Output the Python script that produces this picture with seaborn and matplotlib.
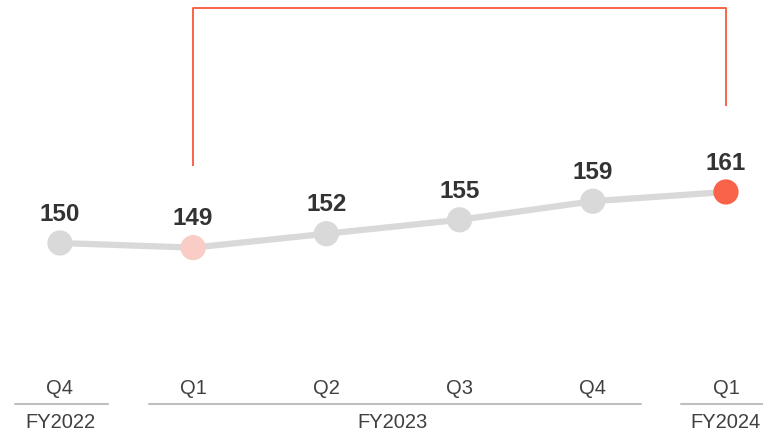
import matplotlib
matplotlib.use("Agg")
import matplotlib.pyplot as plt
import matplotlib.transforms as mtransforms
import seaborn as sns
import pandas as pd

quarters = ["Q4", "Q1", "Q2", "Q3", "Q4", "Q1"]
fiscal_years = ["FY2022", "FY2023", "FY2023", "FY2023", "FY2023", "FY2024"]
values = [150, 149, 152, 155, 159, 161]
point_roles = ["base", "start", "base", "base", "base", "end"]

df = pd.DataFrame({"pos": range(len(values)), "value": values,
                   "quarter": quarters, "fy": fiscal_years, "role": point_roles})

sns.set_theme(style="white")
plt.rcParams["font.family"] = ["Liberation Sans", "DejaVu Sans"]

GRAY = "#D9D9D9"
RED = "#F8634A"
PINK = "#F9CDC6"
TEXT = "#333333"
AXIS_TEXT = "#404040"
RULE = "#BFBFBF"

fig = plt.figure(figsize=(7.63, 4.33), dpi=100)
ax = fig.add_axes([0, 0, 1, 1])

sns.lineplot(data=df, x="pos", y="value", color=GRAY, linewidth=4.5, ax=ax,
             zorder=1, legend=False)
sns.scatterplot(data=df, x="pos", y="value", hue="role",
                palette={"base": GRAY, "start": PINK, "end": RED},
                s=330, linewidth=0, ax=ax, zorder=2, legend=False)

for _, r in df.iterrows():
    ax.annotate(str(r["value"]), (r["pos"], r["value"]), xytext=(0, 16),
                textcoords="offset points", ha="center", va="baseline",
                fontsize=17.5, fontweight="bold", color=TEXT)

ax.set_xlim(-0.45, 5.278)
ax.set_ylim(109.05, 202.37)
ax.set_axis_off()

trans = mtransforms.blended_transform_factory(ax.transData, ax.transAxes)

# bracket from first FY2023 quarter to latest quarter
i0, i1 = 1, len(values) - 1
ax.plot([i0, i0, i1, i1], [0.617, 0.9815, 0.9815, 0.755], transform=trans,
        color=RED, linewidth=1.4, solid_capstyle="butt", clip_on=False)

# quarter labels
for i, q in enumerate(quarters):
    ax.text(i, 0.09, q, transform=trans, ha="center", va="baseline",
            fontsize=14.5, color=AXIS_TEXT)

# fiscal-year groups
groups = []
for i, fy in enumerate(fiscal_years):
    if groups and groups[-1][0] == fy:
        groups[-1][2] = i
    else:
        groups.append([fy, i, i])
for fy, a, b in groups:
    ax.plot([a - 0.335, b + 0.36], [0.067, 0.067], transform=trans,
            color=RULE, linewidth=1.5, clip_on=False)
    ax.text((a + b) / 2, 0.011, fy, transform=trans, ha="center", va="baseline",
            fontsize=14.5, color=AXIS_TEXT)

fig.savefig("out.png", dpi=100)
